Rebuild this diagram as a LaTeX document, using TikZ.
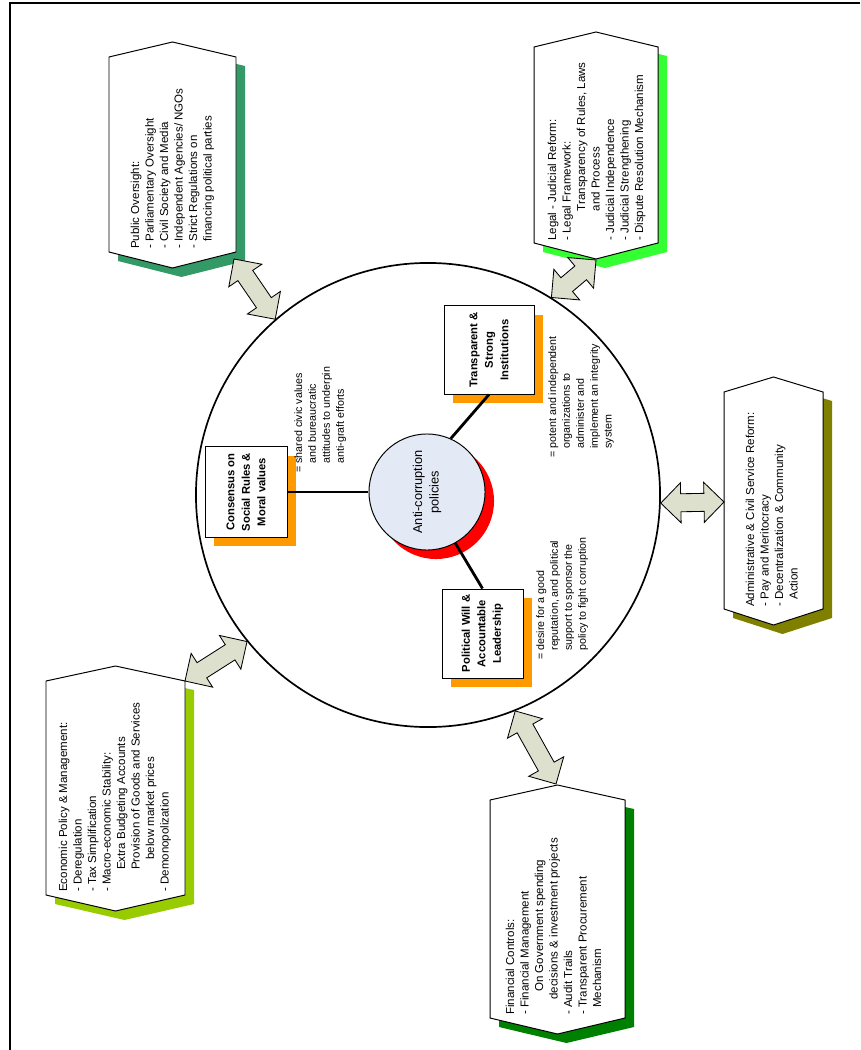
\documentclass[tikz,border=0pt]{standalone}
\usepackage{fontspec}
\setmainfont{Liberation Sans}
\usetikzlibrary{calc}

\definecolor{vertMer}{HTML}{339966}
\definecolor{vertVif}{HTML}{33FF33}
\definecolor{vertOlive}{HTML}{808000}
\definecolor{vertPomme}{HTML}{99CC00}
\definecolor{vertFonce}{HTML}{008000}
\definecolor{orangeOmbre}{HTML}{FF9900}
\definecolor{grisFleche}{HTML}{DDE0CC}
\definecolor{bleuPale}{HTML}{E4EAF5}

\newcommand\retrait{\phantom{= }}
\newcommand\tiret{\phantom{- }}

\newcommand\PMHexagone[5] {
  \draw[draw=none, fill=#5, shift={(9,9)}]
     (#1, #3) -- ({(#1+#2)/2}, {#3-15}) -- (#2, #3)
     -- (#2, #4) -- ({(#1+#2)/2}, {#4+16}) -- (#1, #4) -- cycle ;
  \draw[fill=white, line width=.7pt]
     (#1, #3) -- ({(#1+#2)/2}, {#3-15}) -- (#2, #3)
     -- (#2, #4) -- ({(#1+#2)/2}, {#4+16}) -- (#1, #4) -- cycle ;
}
\newcommand\PMFlecheDouble[2] {
  \draw[fill=grisFleche, line width=.6pt, line join=miter]
     (#1)
     -- ($(#1)!.5cm!(#2)!.5cm!90:(#2)$)
     -- ($(#1)!.5cm!(#2)!.225cm!90:(#2)$)
     -- ($(#2)!.5cm!(#1)!.225cm!-90:(#1)$)
     -- ($(#2)!.5cm!(#1)!.5cm!-90:(#1)$)
     -- (#2)
     -- ($(#2)!.5cm!(#1)!.5cm!90:(#1)$)
     -- ($(#2)!.5cm!(#1)!.225cm!90:(#1)$)
     -- ($(#1)!.5cm!(#2)!.225cm!-90:(#2)$)
     -- ($(#1)!.5cm!(#2)!.5cm!-90:(#2)$)
     -- cycle ;
}

\tikzset{
  texte/.style={rotate=90, anchor=north west, inner sep=0pt, align=left,
    font=\fontsize{8.2}{10.3}\selectfont},
  note/.style={rotate=90, anchor=north west, inner sep=0pt, align=left,
    font=\fontsize{7.6}{9.9}\selectfont},
  cadre/.style={draw, fill=white, line width=.7pt, rotate=90, inner sep=0pt,
    align=center, font=\bfseries\fontsize{8}{11}\selectfont},
  ombre/.style={fill=orangeOmbre, rotate=90, inner sep=0pt},
  liaison/.style={line width=2pt},
}

\begin{document}
\begin{tikzpicture}[x=0.025cm, y=-0.025cm]
   \useasboundingbox (0, 0) rectangle (860, 1050) ;
   \draw[line width=1.4pt] (860, 3) -- (10, 3) -- (10, 1050) ;

   \node[circle, draw, line width=1.2pt, minimum size=11.6cm, inner sep=0pt] (ring) at (428, 495) {} ;

   \PMHexagone{109}{236}{57}{252}{vertMer}
   \PMHexagone{534}{658}{47}{243}{vertVif}
   \PMHexagone{724}{823}{392}{609}{vertOlive}
   \PMHexagone{46}{185}{681}{895}{vertPomme}
   \PMHexagone{490}{625}{800}{1018}{vertFonce}

   \node[texte] (public) at (130.5, 249) {Public Oversight:\\- Parliamentary Oversight\\- Civil Society and Media\\- Independent Agencies/ NGOs\\- Strict Regulations on\\\tiret financing political parties} ;
   \node[texte] (legal) at (547.5, 241) {Legal - Judicial Reform:\\- Legal Framework:\\\hspace*{21pt}Transparency of Rules, Laws\\\hspace*{21pt}and Process\\- Judicial Independence\\- Judicial Strengthening\\- Dispute Resolution Mechanism} ;
   \node[texte] (admin) at (745.5, 607) {Administrative \& Civil Service Reform:\\- Pay and Meritocracy\\- Decentralization \& Community\\\tiret Action} ;
   \node[texte] (economic) at (58.5, 892) {Economic Policy \& Management:\\- Deregulation\\- Tax Simplification\\- Macro-economic Stability:\\\hspace*{15.6pt}Extra Budgeting Accounts\\\hspace*{15.6pt}Provision of Goods and Services\\\hspace*{22.8pt}below market prices\\- Demonopolization} ;
   \node[texte] (financial) at (505.5, 1015) {Financial Controls:\\- Financial Management\\\hspace*{16.4pt}On Government spending\\\hspace*{10.7pt}decisions \& investment projects\\- Audit Trails\\- Transparent Procurement\\\tiret Mechanism} ;

   \node[circle, fill=red, minimum size=2.9cm, inner sep=0pt] (core-ombre) at (436, 501) {} ;
   \node[circle, draw, fill=bleuPale, line width=.7pt, minimum size=2.9cm, inner sep=0pt] (core) at (427, 492) {} ;
   \node[rotate=90, align=center, font=\fontsize{9.1}{11.8}\selectfont] (core-titre) at (core) {Anti-corruption\\policies} ;

   \node[ombre, minimum width=2.25cm, minimum height=2.05cm] (consensus-ombre) at (255, 501) {} ;
   \node[cadre, minimum width=2.25cm, minimum height=2.05cm] (consensus) at (246, 492) {Consensus on\\Social Rules \&\\Moral values} ;
   \node[ombre, minimum width=2.2cm, minimum height=2.25cm] (transparent-ombre) at (498, 359) {} ;
   \node[cadre, minimum width=2.2cm, minimum height=2.25cm] (transparent) at (489, 350) {Transparent \&\\Strong\\Institutions} ;
   \node[ombre, minimum width=2.225cm, minimum height=2.025cm] (political-ombre) at (491.5, 642.5) {} ;
   \node[cadre, minimum width=2.225cm, minimum height=2.025cm] (political) at (482.5, 633.5) {Political Will \&\\Accountable\\Leadership} ;

   \draw[liaison] (consensus) -- (core) ;
   \draw[liaison] (transparent.west) -- (core.66) ;
   \draw[liaison] (political.east) -- (core.-61) ;

   \node[note] (consensus-note) at (294, 473) {= shared civic values\\\retrait and bureaucratic\\\retrait attitudes to  underpin\\\retrait anti-graft efforts} ;
   \node[note] (transparent-note) at (548, 458) {= potent and independent\\\retrait organizations to\\\retrait administer and\\\retrait implement an integrity\\\retrait system} ;
   \node[note] (political-note) at (536, 660) {= desire for a good\\\retrait reputation, and political\\\retrait support to sponsor the\\\retrait policy to fight corruption} ;

   \coordinate (public-bout) at (234, 259) ;
   \coordinate (legal-bout) at (596, 260) ;
   \coordinate (admin-bout) at (724, 502) ;
   \coordinate (economic-bout) at (185, 681) ;
   \coordinate (financial-bout) at (556, 784) ;
   \PMFlecheDouble{public-bout}{ring.131}
   \PMFlecheDouble{legal-bout}{ring.58}
   \PMFlecheDouble{admin-bout}{ring.-2}
   \PMFlecheDouble{economic-bout}{ring.219}
   \PMFlecheDouble{financial-bout}{ring.292}
\end{tikzpicture}
\end{document}
